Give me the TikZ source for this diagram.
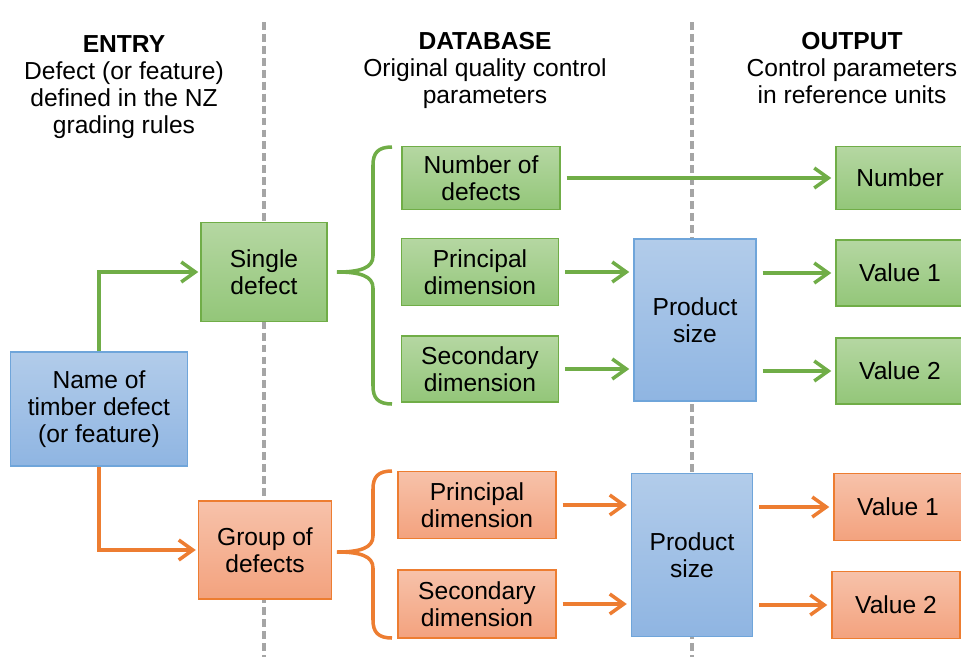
\documentclass[tikz,border=0pt]{standalone}
\usepackage{fontspec}
\setmainfont{Liberation Sans}
\usepackage{tikz}
\usetikzlibrary{arrows.meta}
\definecolor{grnline}{RGB}{112,173,71}
\definecolor{grntop}{RGB}{181,215,162}
\definecolor{grnbot}{RGB}{147,198,121}
\definecolor{bluline}{RGB}{111,165,218}
\definecolor{blutop}{RGB}{178,204,234}
\definecolor{blubot}{RGB}{143,181,226}
\definecolor{orgline}{RGB}{237,125,49}
\definecolor{orgtop}{RGB}{247,194,170}
\definecolor{orgbot}{RGB}{243,162,126}
\definecolor{divgray}{RGB}{165,165,165}
\tikzset{
	box/.style={inner sep=0pt, align=center, line width=0.85pt, font=\fontsize{14}{15.4}\selectfont},
	greenbox/.style={box, draw=grnline, top color=grntop, bottom color=grnbot},
	bluebox/.style={box, draw=bluline, top color=blutop, bottom color=blubot},
	orangebox/.style={box, draw=orgline, top color=orgtop, bottom color=orgbot},
	head/.style={inner sep=0pt, align=center, anchor=north, font=\fontsize{14}{15.4}\selectfont},
	flow/.style={line width=2pt, -{Straight Barb[length=2.8mm, width=4mm, line width=2pt]}},
	greenarrow/.style={flow, draw=grnline},
	orangearrow/.style={flow, draw=orgline},
	divider/.style={line width=2pt, draw=divgray, dash pattern=on 4.5pt off 2.3pt}
}
% curly bracket: tip y, top y, bottom y
\def\bracket[#1](#2:#3:#4){\draw[#1, line width=2pt] (392,#3) .. controls (378,#3) and (373,#3+6) .. (373,#3+18) -- (373,#2-16) .. controls (373,#2-4) and (360,#2) .. (337,#2) .. controls (360,#2) and (373,#2+4) .. (373,#2+16) -- (373,#4-18) .. controls (373,#4-6) and (378,#4) .. (392,#4);}

\begin{document}
\begin{tikzpicture}[x=0.02cm, y=-0.02cm]
			%%%%% START %%%%%
			\clip (0,0) rectangle (961,657);
			
			\draw[divider] (264,22) -- (264,657);
			\draw[divider] (692,22) -- (692,657);
			
			% column heads
			\node[head] (entryhead) at (124,35) {\textbf{ENTRY}\\Defect (or feature)\\defined in the NZ\\grading rules};
			\node[head] (dbhead) at (485,32) {\textbf{DATABASE}\\Original quality control\\parameters};
			\node[head] (outhead) at (852,32) {\textbf{OUTPUT}\\Control parameters\\in reference units};
			
			% entry
			\node[bluebox, minimum width=3.54cm, minimum height=2.28cm] (defname) at (99,409) {Name of\\timber defect\\(or feature)};
			\node[greenbox, minimum width=2.52cm, minimum height=1.98cm] (single) at (264,272) {Single\\defect};
			\node[orangebox, minimum width=2.66cm, minimum height=1.96cm] (group) at (265,550) {Group of\\defects};
			
			\draw[greenarrow, shorten >=0.04cm] (defname.north) |- (single.west);
			\draw[orangearrow, shorten >=0.04cm] (defname.south) |- (group.west);
			
			% single defect
			\node[greenbox, minimum width=3.16cm, minimum height=1.26cm] (numdef) at (481,178) {Number of\\defects};
			\node[greenbox, minimum width=3.14cm, minimum height=1.34cm] (princ) at (480,272) {Principal\\dimension};
			\node[greenbox, minimum width=3.14cm, minimum height=1.32cm] (second) at (480,369) {Secondary\\dimension};
			\node[bluebox, minimum width=2.44cm, minimum height=3.24cm] (prodsize) at (695,320) {Product\\size};
			\node[greenbox, minimum width=2.56cm, minimum height=1.26cm] (outnum) at (900,178) {Number};
			\node[greenbox, minimum width=2.56cm, minimum height=1.32cm] (outval1) at (900,273) {Value 1};
			\node[greenbox, minimum width=2.56cm, minimum height=1.32cm] (outval2) at (900,371) {Value 2};
			
			\bracket[grnline](272:147:404)
			\draw[greenarrow, shorten <=0.12cm, shorten >=0.08cm] (numdef) -- (outnum);
			\draw[greenarrow, shorten <=0.12cm, shorten >=0.08cm] (princ) -- (princ -| prodsize.west);
			\draw[greenarrow, shorten <=0.12cm, shorten >=0.08cm] (second) -- (second -| prodsize.west);
			\draw[greenarrow, shorten <=0.12cm, shorten >=0.08cm] (prodsize.east |- outval1) -- (outval1);
			\draw[greenarrow, shorten <=0.12cm, shorten >=0.08cm] (prodsize.east |- outval2) -- (outval2);
			
			% group of defects
			\node[orangebox, minimum width=3.16cm, minimum height=1.34cm] (oprinc) at (477,505) {Principal\\dimension};
			\node[orangebox, minimum width=3.16cm, minimum height=1.36cm] (osecond) at (477,604) {Secondary\\dimension};
			\node[bluebox, minimum width=2.42cm, minimum height=3.26cm] (oprodsize) at (692,555) {Product\\size};
			\node[orangebox, minimum width=2.56cm, minimum height=1.34cm] (ooutval1) at (898,507) {Value 1};
			\node[orangebox, minimum width=2.56cm, minimum height=1.34cm] (ooutval2) at (896,605) {Value 2};
			
			\bracket[orgline](552:471:638)
			\draw[orangearrow, shorten <=0.12cm, shorten >=0.08cm] (oprinc) -- (oprinc -| oprodsize.west);
			\draw[orangearrow, shorten <=0.12cm, shorten >=0.08cm] (osecond) -- (osecond -| oprodsize.west);
			\draw[orangearrow, shorten <=0.12cm, shorten >=0.08cm] (oprodsize.east |- ooutval1) -- (ooutval1);
			\draw[orangearrow, shorten <=0.12cm, shorten >=0.08cm] (oprodsize.east |- ooutval2) -- (ooutval2);
			
			%%%%% END %%%%%
\end{tikzpicture}
\end{document}
